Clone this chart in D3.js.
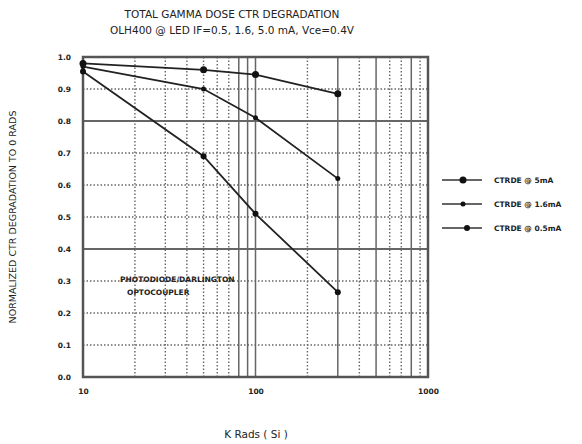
<!DOCTYPE html>
<html lang="en">
<head>
<meta charset="utf-8">
<title>Total gamma dose CTR degradation</title>
<script src="https://cdn.jsdelivr.net/npm/d3@7"></script>
<style>
  body { margin: 0; background: #fff; }
  text { font-family: "DejaVu Sans", sans-serif; fill: #222; }
</style>
</head>
<body>
<script>
var w = 582, h = 444;

// data
var dose = [10, 50, 100, 300];
var ctr5mA = [0.98, 0.96, 0.945, 0.885];
var ctr16mA = [0.97, 0.90, 0.81, 0.62];
var ctr05mA = [0.955, 0.69, 0.51, 0.265];
var seriesNames = ["CTRDE @ 5mA", "CTRDE @ 1.6mA", "CTRDE @ 0.5mA"];
var yTicks = [0, 0.1, 0.2, 0.3, 0.4, 0.5, 0.6, 0.7, 0.8, 0.9, 1.0];
var xTicks = [10, 100, 1000];
var solidY = [0.4, 0.8];
var solidX = [80, 90, 100, 300, 500, 800];

var margin = {left: 83, right: 154, top: 57, bottom: 67};

var x = d3.scaleLog().domain([10, 1000]).range([margin.left, w - margin.right]);
var y = d3.scaleLinear().domain([0, 1]).range([h - margin.bottom, margin.top]);

var svg = d3.select('body').append('svg')
    .attr('width', w)
    .attr('height', h);

// title
svg.append('text').attr('x', 232).attr('y', 18).attr('text-anchor', 'middle')
    .style('font-size', '10.5px').text('TOTAL GAMMA DOSE CTR DEGRADATION');
svg.append('text').attr('x', 232).attr('y', 34).attr('text-anchor', 'middle')
    .style('font-size', '10.5px').text('OLH400 @ LED IF=0.5, 1.6, 5.0 mA, Vce=0.4V');

// grid lines
var minor = [];
[10, 100].forEach(function(d) {
    for (var k = 2; k <= 9; k++) minor.push(d * k);
});
minor.push(100);

svg.selectAll('.vgrid')
    .data(minor)
    .enter()
    .append('line')
    .attr('x1', function(d) { return x(d); })
    .attr('x2', function(d) { return x(d); })
    .attr('y1', y(0))
    .attr('y2', y(1))
    .attr('stroke', '#666')
    .attr('stroke-width', function(d) { return solidX.indexOf(d) >= 0 ? 1.5 : 1.4; })
    .attr('stroke-dasharray', function(d) { return solidX.indexOf(d) >= 0 ? null : '1.5,2'; });

svg.selectAll('.hgrid')
    .data(yTicks.slice(1, -1))
    .enter()
    .append('line')
    .attr('x1', x(10))
    .attr('x2', x(1000))
    .attr('y1', function(d) { return y(d); })
    .attr('y2', function(d) { return y(d); })
    .attr('stroke', '#666')
    .attr('stroke-width', function(d) { return solidY.indexOf(d) >= 0 ? 1.8 : 1.4; })
    .attr('stroke-dasharray', function(d) { return solidY.indexOf(d) >= 0 ? null : '1.5,2'; });

// frame
svg.append('rect')
    .attr('x', x(10)).attr('y', y(1))
    .attr('width', x(1000) - x(10)).attr('height', y(0) - y(1))
    .attr('fill', 'none').attr('stroke', '#555').attr('stroke-width', 2.5);

// axes
var yAxis = d3.axisLeft(y).tickValues(yTicks).tickSize(0).tickPadding(12)
    .tickFormat(d3.format('.1f'));
svg.append('g').attr('transform', 'translate(' + margin.left + ',0)').call(yAxis)
    .call(function(g) { g.select('.domain').remove(); })
    .selectAll('text').style('font-size', '7.5px').style('font-weight', 'bold');

var xAxis = d3.axisBottom(x).tickValues(xTicks).tickSize(0).tickPadding(12)
    .tickFormat(d3.format('d'));
svg.append('g').attr('transform', 'translate(0,' + y(0) + ')').call(xAxis)
    .call(function(g) { g.select('.domain').remove(); })
    .selectAll('text').style('font-size', '7.5px').style('font-weight', 'bold');

svg.append('text').attr('x', 256).attr('y', 438).attr('text-anchor', 'middle')
    .style('font-size', '10.5px').text('K Rads ( Si )');

svg.append('text')
    .attr('transform', 'translate(16,' + ((y(0) + y(1)) / 2) + ') rotate(-90)')
    .attr('text-anchor', 'middle')
    .style('font-size', '9.5px')
    .text('NORMALIZED CTR DEGRADATION TO 0 RADS');

// annotation
svg.append('text').attr('x', 120).attr('y', 282)
    .style('font-size', '7.5px').style('font-weight', 'bold')
    .text('PHOTODIODE/DARLINGTON');
svg.append('text').attr('x', 127).attr('y', 295)
    .style('font-size', '7.5px').style('font-weight', 'bold')
    .text('OPTOCOUPLER');

// series
var series = [ctr5mA, ctr16mA, ctr05mA];
var markerR = [3.5, 2.5, 3];
var line = d3.line()
    .x(function(d, i) { return x(dose[i]); })
    .y(function(d) { return y(d); });

series.forEach(function(vals, s) {
    svg.append('path')
        .datum(vals)
        .attr('d', line)
        .attr('fill', 'none')
        .attr('stroke', '#222')
        .attr('stroke-width', 1.8);
    svg.selectAll('.pt' + s)
        .data(vals)
        .enter()
        .append('circle')
        .attr('cx', function(d, i) { return x(dose[i]); })
        .attr('cy', function(d) { return y(d); })
        .attr('r', markerR[s])
        .attr('fill', '#111');
});

// legend
var legY = [180, 204, 228];
var leg = svg.selectAll('.leg')
    .data(seriesNames)
    .enter()
    .append('g')
    .attr('transform', function(d, i) { return 'translate(442,' + legY[i] + ')'; });
leg.append('line').attr('x1', 0).attr('x2', 40).attr('y1', 0).attr('y2', 0)
    .attr('stroke', '#333').attr('stroke-width', 1.5);
leg.append('circle').attr('cx', function(d, i) { return i == 2 ? 25 : 21; }).attr('cy', 0)
    .attr('r', function(d, i) { return markerR[i]; }).attr('fill', '#111');
leg.append('text').attr('x', 52).attr('y', 3)
    .style('font-size', '7.5px').style('font-weight', 'bold')
    .text(function(d) { return d; });
</script>
</body>
</html>
